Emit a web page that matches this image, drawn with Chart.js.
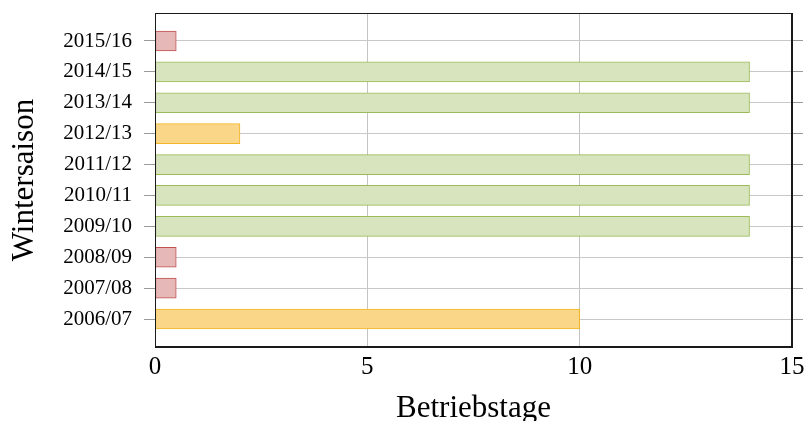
<!DOCTYPE html>
<html>
<head>
<meta charset="utf-8">
<script src="https://cdn.jsdelivr.net/npm/chart.js@4"></script>
<style>
  html, body { margin: 0; padding: 0; background: #fff; }
  #wrap { width: 804px; height: 421px; }
</style>
</head>
<body>
<div id="wrap"><canvas id="chart" width="804" height="421"></canvas></div>
<script>
// Data (bottom to top)
const seasons = ['2006/07', '2007/08', '2008/09', '2009/10', '2010/11',
                 '2011/12', '2012/13', '2013/14', '2014/15', '2015/16'];
const betriebstage = [10, 0.5, 0.5, 14, 14, 14, 2, 14, 14, 0.5];
const stufe = ['teilweise', 'kaum', 'kaum', 'voll', 'voll',
               'voll', 'teilweise', 'voll', 'voll', 'kaum'];
const xTickValues = [0, 5, 10, 15];

const fillColors = { kaum: '#e6b9b8', teilweise: '#f9d688', voll: '#d7e4bd' };
const lineColors = { kaum: '#c0504d', teilweise: '#f3b629', voll: '#9bbb59' };

const serif = "'Liberation Serif', 'Times New Roman', serif";
const yMin = -0.906, yMax = seasons.length - 1 + 0.906;

const seasonTicks = scale => {
    scale.ticks = seasons.map((s, i) => ({ value: i }));
};

// no extra room for label overhang, the frame is placed by hand
const noOverhang = (scale, w, h) => {
    if (w !== undefined) scale.width = w;
    if (h !== undefined) scale.height = h;
    scale.paddingTop = 0;
    scale.paddingBottom = 0;
    scale.paddingLeft = 0;
    scale.paddingRight = 0;
};

// black frame around the plot area, drawn over the bars
const frame = {
    id: 'frame',
    afterDatasetsDraw(chart) {
        const { ctx, chartArea: a } = chart;
        ctx.save();
        ctx.strokeStyle = '#1a1a1a';
        ctx.lineWidth = 1;
        const l = Math.round(a.left) + 0.5, t = Math.round(a.top) + 0.5;
        const r = Math.round(a.right) - 0.5, b = Math.round(a.bottom) - 0.5;
        ctx.strokeRect(l, t, r - l, b - t);
        ctx.restore();
    }
};

new Chart(document.getElementById('chart').getContext('2d'), {
    type: 'bar',
    data: {
        datasets: [{
            data: betriebstage.map((v, i) => ({ x: v, y: i })),
            backgroundColor: stufe.map(s => fillColors[s]),
            borderColor: stufe.map(s => lineColors[s]),
            borderWidth: 1,
            borderSkipped: false,
            barThickness: 20,
        }],
    },
    options: {
        indexAxis: 'y',
        responsive: false,
        animation: false,
        devicePixelRatio: 1,
        layout: { padding: { top: 13, right: 1, bottom: 0, left: 0 } },
        plugins: { legend: { display: false }, tooltip: { enabled: false } },
        scales: {
            x: {
                type: 'linear',
                min: 0,
                max: 15,
                afterBuildTicks: s => { s.ticks = xTickValues.map(v => ({ value: v })); },
                afterFit: s => noOverhang(s, undefined, 74),
                grid: { color: '#c4c4c4', drawTicks: false },
                border: { display: true, color: '#1a1a1a' },
                ticks: { color: '#000', padding: 5, font: { family: serif, size: 25 } },
                title: {
                    display: true,
                    text: 'Betriebstage',
                    color: '#000',
                    padding: 0,
                    font: { family: serif, size: 31, lineHeight: 0.8 },
                },
            },
            y: {
                type: 'linear',
                position: 'left',
                min: yMin,
                max: yMax,
                offset: false,
                afterBuildTicks: seasonTicks,
                afterFit: s => noOverhang(s, 155),
                grid: { offset: false, color: '#c8c8c8', tickColor: '#9a9a9a', tickLength: 11 },
                border: { display: true, color: '#1a1a1a' },
                ticks: {
                    color: '#000',
                    padding: 12,
                    font: { family: serif, size: 21 },
                    callback: v => seasons[v],
                },
                title: {
                    display: true,
                    text: 'Wintersaison',
                    color: '#000',
                    padding: { top: 10, bottom: 0 },
                    font: { family: serif, size: 31, lineHeight: 0.95 },
                },
            },
            y2: {
                type: 'linear',
                position: 'right',
                min: yMin,
                max: yMax,
                offset: false,
                afterBuildTicks: seasonTicks,
                afterFit: s => noOverhang(s, 11),
                grid: { offset: false, drawOnChartArea: false, tickColor: '#9a9a9a', tickLength: 11 },
                border: { display: true, color: '#1a1a1a' },
                ticks: { display: false },
            },
        },
    },
    plugins: [frame],
});
</script>
</body>
</html>
